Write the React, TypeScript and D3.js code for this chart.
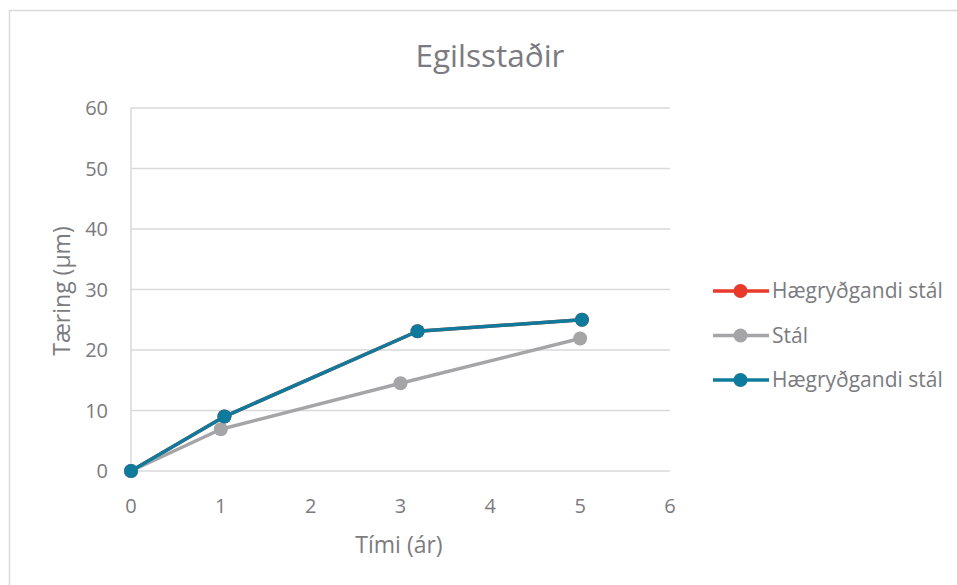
import { useEffect, useRef } from 'react'
import * as d3 from 'd3'

const chartTitle = 'Egilsstaðir'
const xTitle = 'Tími (ár)'
const yTitle = 'Tæring (µm)'

const xTicks = [0, 1, 2, 3, 4, 5, 6]
const yTicks = [0, 10, 20, 30, 40, 50, 60]

const seriesNames = ['Hægryðgandi stál', 'Stál', 'Hægryðgandi stál']
const seriesColors = ['#e8392a', '#a5a5a7', '#0f7b9c']

// red series is hidden under the blue one in the reference
const redX = [0, 1.04, 3.19, 5.02]
const redY = [0, 9.0, 23.1, 25.0]
const staalX = [0, 1, 3, 5]
const staalY = [0, 6.9, 14.5, 21.9]
const blueX = [0, 1.04, 3.19, 5.02]
const blueY = [0, 9.0, 23.1, 25.0]

const W = 957
const H = 585
const font = '"Open Sans", Lato, sans-serif'
const textColor = '#7b7b80'

export default function App() {
  const svgRef = useRef<SVGSVGElement>(null)

  useEffect(() => {
    if (!svgRef.current) return
    const svg = d3.select(svgRef.current)
    svg.selectAll('*').remove()

    const margin = { left: 131, right: 287, top: 108, bottom: 114 }
    const innerW = W - margin.left - margin.right
    const innerH = H - margin.top - margin.bottom

    // outer chart border (only top/left visible)
    svg.append('rect').attr('width', W).attr('height', H).attr('fill', '#fff')
    svg
      .append('path')
      .attr('d', `M9.5,${H} V10.5 H${W}`)
      .attr('fill', 'none')
      .attr('stroke', '#d9d9d9')
      .attr('stroke-width', 1.5)

    const x = d3.scaleLinear().domain([0, 6]).range([0, innerW])
    const y = d3.scaleLinear().domain([0, 60]).range([innerH, 0])

    const g = svg.append('g').attr('transform', `translate(${margin.left},${margin.top})`)

    // title
    svg
      .append('text')
      .attr('x', 490)
      .attr('y', 67)
      .attr('text-anchor', 'middle')
      .attr('font-family', font)
      .attr('font-size', 31.5)
      .attr('fill', textColor)
      .text(chartTitle)

    // gridlines
    g.selectAll('line.grid')
      .data(yTicks)
      .enter()
      .append('line')
      .attr('class', 'grid')
      .attr('x1', 0)
      .attr('x2', innerW)
      .attr('y1', (d) => y(d))
      .attr('y2', (d) => y(d))
      .attr('stroke', '#d9d9d9')
      .attr('stroke-width', 1.5)

    // y axis line
    g.append('line')
      .attr('x1', 0)
      .attr('x2', 0)
      .attr('y1', 0)
      .attr('y2', innerH)
      .attr('stroke', '#d9d9d9')
      .attr('stroke-width', 1.5)

    // y tick labels
    g.selectAll('text.ytick')
      .data(yTicks)
      .enter()
      .append('text')
      .attr('class', 'ytick')
      .attr('x', -23)
      .attr('y', (d) => y(d))
      .attr('dy', '0.36em')
      .attr('text-anchor', 'end')
      .attr('font-family', font)
      .attr('font-size', 20)
      .attr('fill', textColor)
      .text((d) => d)

    // x tick labels
    g.selectAll('text.xtick')
      .data(xTicks)
      .enter()
      .append('text')
      .attr('class', 'xtick')
      .attr('x', (d) => x(d))
      .attr('y', innerH + 42)
      .attr('text-anchor', 'middle')
      .attr('font-family', font)
      .attr('font-size', 20)
      .attr('fill', textColor)
      .text((d) => d)

    // axis titles
    svg
      .append('text')
      .attr('x', 399)
      .attr('y', 553)
      .attr('text-anchor', 'middle')
      .attr('font-family', font)
      .attr('font-size', 23)
      .attr('fill', textColor)
      .text(xTitle)

    svg
      .append('text')
      .attr('transform', `translate(70,291) rotate(-90)`)
      .attr('text-anchor', 'middle')
      .attr('font-family', font)
      .attr('font-size', 23)
      .attr('fill', textColor)
      .text(yTitle)

    // series
    const allSeries = [
      { xs: redX, ys: redY },
      { xs: staalX, ys: staalY },
      { xs: blueX, ys: blueY },
    ]
    const line = d3
      .line<[number, number]>()
      .x((d) => x(d[0]))
      .y((d) => y(d[1]))

    allSeries.forEach((s, i) => {
      const pts: [number, number][] = s.xs.map((v, j) => [v, s.ys[j]])
      g.append('path')
        .datum(pts)
        .attr('d', line)
        .attr('fill', 'none')
        .attr('stroke', seriesColors[i])
        .attr('stroke-width', 3.5)
        .attr('stroke-linejoin', 'round')
      g.selectAll(`circle.s${i}`)
        .data(pts)
        .enter()
        .append('circle')
        .attr('class', `s${i}`)
        .attr('cx', (d) => x(d[0]))
        .attr('cy', (d) => y(d[1]))
        .attr('r', 7)
        .attr('fill', seriesColors[i])
    })

    // legend
    const legend = svg.append('g').attr('transform', 'translate(713,291)')
    seriesNames.forEach((name, i) => {
      const row = legend.append('g').attr('transform', `translate(0,${i * 44.5})`)
      row
        .append('line')
        .attr('x1', 0)
        .attr('x2', 56)
        .attr('y1', 0)
        .attr('y2', 0)
        .attr('stroke', seriesColors[i])
        .attr('stroke-width', 3.5)
      row.append('circle').attr('cx', 27.5).attr('cy', 0).attr('r', 7).attr('fill', seriesColors[i])
      row
        .append('text')
        .attr('x', 59)
        .attr('y', 0)
        .attr('dy', '0.35em')
        .attr('font-family', font)
        .attr('font-size', 21)
        .attr('fill', textColor)
        .text(name)
    })
  }, [])

  return (
    <svg
      ref={svgRef}
      width={W}
      height={H}
      style={{ position: 'absolute', left: 0, top: 0, display: 'block' }}
    />
  )
}
